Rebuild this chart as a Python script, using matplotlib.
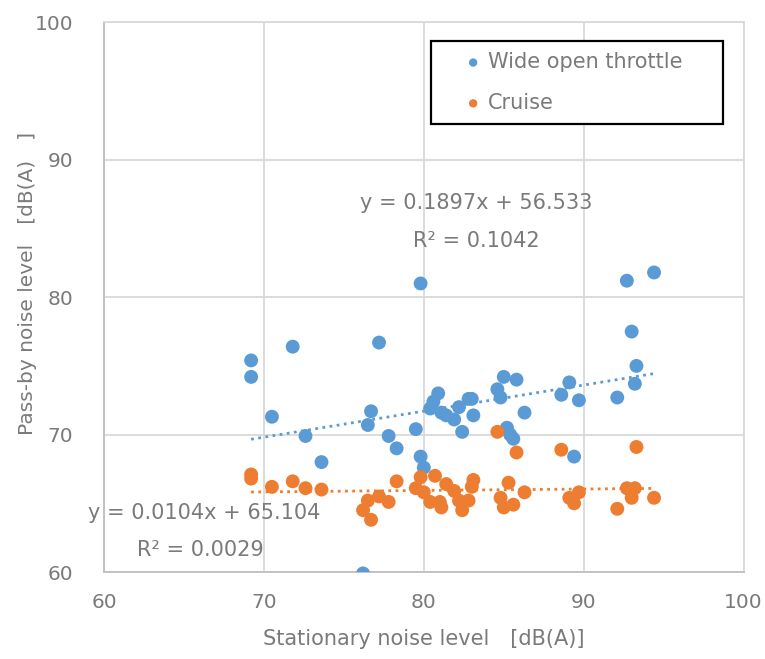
import numpy as np
import matplotlib
matplotlib.use("Agg")
import matplotlib.pyplot as plt

plt.rcParams["font.family"] = ["DejaVu Sans", "Noto Sans CJK JP"]

# Wide open throttle (stationary dB(A), pass-by dB(A))
wot_x = [69.2, 69.2, 71.8, 70.5, 72.6, 73.6, 77.2, 76.7, 76.5, 77.8, 78.3, 79.5,
         79.8, 80.0, 79.8, 76.2, 80.4, 80.6, 80.9, 81.1, 81.4, 81.9, 82.2, 82.8,
         83.0, 83.1, 82.4, 84.6, 84.8, 85.0, 85.8, 86.3, 85.2, 85.4, 85.6, 88.6,
         89.1, 89.7, 89.4, 92.7, 94.4, 93.0, 93.3, 93.2, 92.1]
wot_y = [75.4, 74.2, 76.4, 71.3, 69.9, 68.0, 76.7, 71.7, 70.7, 69.9, 69.0, 70.4,
         68.4, 67.6, 81.0, 59.9, 71.9, 72.4, 73.0, 71.6, 71.4, 71.1, 72.0, 72.6,
         72.6, 71.4, 70.2, 73.3, 72.7, 74.2, 74.0, 71.6, 70.5, 70.0, 69.7, 72.9,
         73.8, 72.5, 68.4, 81.2, 81.8, 77.5, 75.0, 73.7, 72.7]

# Cruise
cr_x = [69.2, 69.2, 70.5, 71.8, 72.6, 73.6, 76.2, 76.5, 76.7, 77.2, 77.8, 78.3,
        79.5, 79.8, 80.0, 80.4, 80.7, 81.0, 81.1, 81.4, 81.9, 82.2, 82.4, 82.8,
        83.0, 83.1, 84.6, 84.8, 85.0, 85.3, 85.6, 86.3, 85.8, 88.6, 89.1, 89.7,
        89.4, 92.7, 93.2, 93.0, 94.4, 92.1, 93.3]
cr_y = [67.1, 66.8, 66.2, 66.6, 66.1, 66.0, 64.5, 65.2, 63.8, 65.5, 65.1, 66.6,
        66.1, 66.9, 65.8, 65.1, 67.0, 65.1, 64.7, 66.4, 65.9, 65.2, 64.5, 65.2,
        66.2, 66.7, 70.2, 65.4, 64.7, 66.5, 64.9, 65.8, 68.7, 68.9, 65.4, 65.8,
        65.0, 66.1, 66.1, 65.4, 65.4, 64.6, 69.1]

# trendline coefficients as shown on the chart (slope, intercept, R^2)
wot_fit = (0.1897, 56.533, 0.1042)
cr_fit = (0.0104, 65.104, 0.0029)

BLUE = "#5B9BD5"
ORANGE = "#ED7D31"
TXT = "#7A7A7A"

fig = plt.figure(figsize=(7.65, 6.59), dpi=100)
ax = fig.add_axes([0.136, 0.132, 0.836, 0.834])

ax.scatter(wot_x, wot_y, s=100, color=BLUE, edgecolors="none", zorder=3, label="Wide open throttle")
ax.scatter(cr_x, cr_y, s=100, color=ORANGE, edgecolors="none", zorder=3, label="Cruise")

# dotted linear trendlines over the data range
for xs, (a, b, r2), col in [(wot_x, wot_fit, BLUE), (cr_x, cr_fit, ORANGE)]:
    xx = np.array([min(xs), max(xs)])
    ax.plot(xx, a * xx + b, ls=(0, (1, 1.6)), lw=2, color=col, zorder=2)

ax.text(83.3, 86.85, f"y = {wot_fit[0]}x + {wot_fit[1]}", ha="center", va="center", fontsize=15, color=TXT)
ax.text(83.3, 84.1, f"R² = {wot_fit[2]}", ha="center", va="center", fontsize=15, color=TXT)
ax.text(59.0, 64.3, f"y = {cr_fit[0]}x + {cr_fit[1]}", ha="left", va="center", fontsize=15, color=TXT)
ax.text(66.0, 61.6, f"R² = {cr_fit[2]}", ha="center", va="center", fontsize=15, color=TXT)

ax.set_xlim(60, 100)
ax.set_ylim(60, 100)
ax.set_xticks([60, 70, 80, 90, 100])
ax.set_yticks([60, 70, 80, 90, 100])
ax.grid(True, color="#D9D9D9", lw=1.3, zorder=0)
ax.set_axisbelow(True)
for side in ["top", "right"]:
    ax.spines[side].set_color("#D9D9D9")
    ax.spines[side].set_linewidth(1.3)
for side in ["left", "bottom"]:
    ax.spines[side].set_color("#BFBFBF")
    ax.spines[side].set_linewidth(1.3)
ax.tick_params(length=0, labelsize=14.5, labelcolor=TXT)
ax.tick_params(axis="x", pad=15)
ax.tick_params(axis="y", pad=22)

ax.set_xlabel("Stationary noise level　[dB(A)]", fontsize=15, color=TXT, labelpad=12)
ax.set_ylabel("Pass-by noise level　[dB(A)　]", fontsize=14.5, color=TXT)
ax.yaxis.set_label_coords(-0.105, 0.525)

leg = ax.legend(loc="upper left", bbox_to_anchor=(0.512, 0.815, 0.456, 0.152), mode="expand",
                fontsize=15, frameon=True, fancybox=False, markerscale=0.6,
                handlelength=2.9, handletextpad=-0.75, borderpad=0.55,
                labelspacing=1.0, borderaxespad=0)
for t in leg.get_texts():
    t.set_color(TXT)
leg.get_frame().set_edgecolor("black")
leg.get_frame().set_linewidth(1.6)
leg.get_frame().set_alpha(1)

fig.savefig("out.png", dpi=100)
